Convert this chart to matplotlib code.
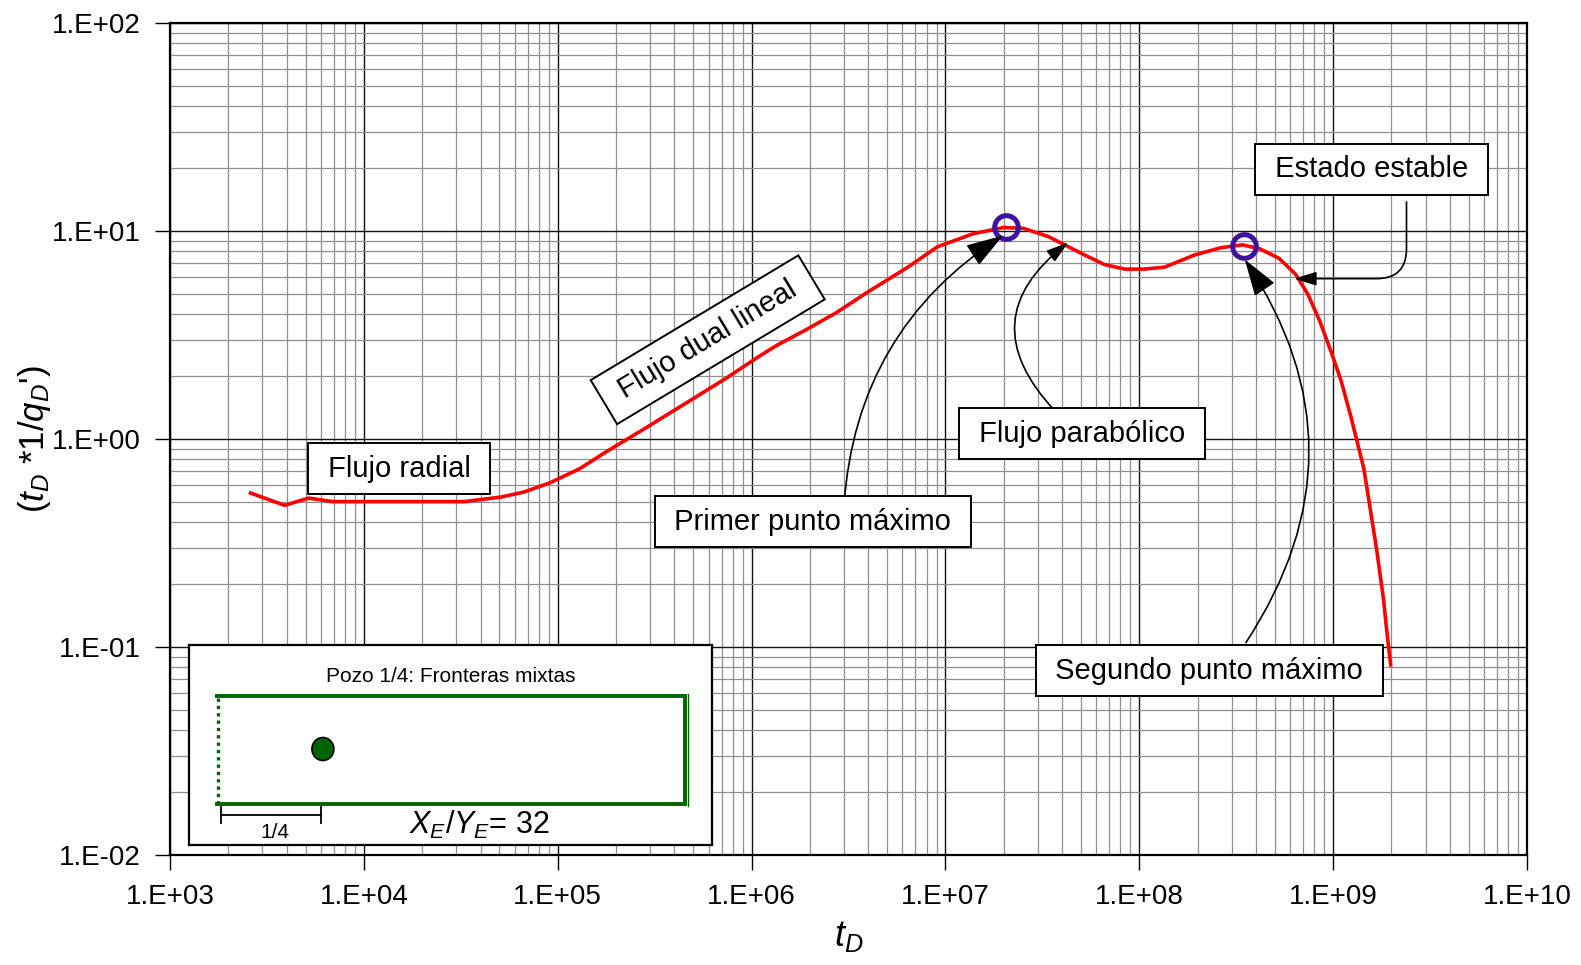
import matplotlib
matplotlib.use("Agg")
import matplotlib.pyplot as plt
from matplotlib.ticker import LogLocator, NullFormatter
from matplotlib.patches import Ellipse

plt.rcParams["font.family"] = ["Liberation Sans", "DejaVu Sans"]
plt.rcParams["mathtext.fontset"] = "custom"
plt.rcParams["mathtext.rm"] = "Liberation Sans"
plt.rcParams["mathtext.it"] = "Liberation Sans:italic"

# curve
td = [2.6e3, 3.9e3, 5.2e3, 6.9e3, 1.5e4, 3.3e4, 5.1e4, 6.7e4, 9.1e4, 1.3e5,
      1.75e5, 2.8e5, 4.6e5, 7.4e5, 1.06e6, 1.34e6, 1.92e6, 2.75e6, 3.95e6,
      6.4e6, 9.1e6, 1.39e7, 2.0e7, 2.53e7, 3.4e7, 4.9e7, 6.6e7, 8.4e7,
      1.06e8, 1.35e8, 1.93e8, 2.62e8, 3.4e8, 4.2e8, 5.25e8, 6.4e8, 7.4e8,
      8.5e8, 9.8e8, 1.1e9, 1.24e9, 1.44e9, 1.54e9, 1.68e9, 1.82e9, 1.89e9,
      1.98e9]
val = [0.55, 0.48, 0.52, 0.50, 0.50, 0.50, 0.526, 0.556, 0.615, 0.72,
       0.86, 1.12, 1.49, 1.96, 2.45, 2.81, 3.36, 4.06, 5.07,
       6.7, 8.4, 9.7, 10.4, 10.3, 9.4, 7.9, 6.9, 6.56,
       6.56, 6.7, 7.67, 8.3, 8.58, 8.2, 7.4, 6.2, 4.97,
       3.72, 2.6, 1.9, 1.26, 0.72, 0.486, 0.29, 0.169, 0.12,
       0.082]

peak_t = [2.05e7, 3.45e8]
peak_v = [10.4, 8.5]

# labels: text, x, y, angle
labels = ["Flujo radial", "Flujo dual lineal", "Primer punto máximo",
          "Flujo parabólico", "Segundo punto máximo", "Estado estable"]
lab_x = [1.52e4, 5.94e5, 2.07e6, 5.07e7, 2.3e8, 1.58e9]
lab_y = [0.72, 3.0, 0.40, 1.06, 0.077, 19.8]
lab_rot = [0, 31, 0, 0, 0, 0]

# arrows: tail (on the box) -> head
arr_tail = [(3.0e6, 0.485), (3.66e7, 1.37), (3.55e8, 0.105), (2.39e9, 13.8)]
arr_head = [(1.98e7, 9.5), (4.3e7, 8.8), (3.5e8, 7.3), (6.3e8, 5.9)]
arr_conn = ["arc3,rad=-0.25", "arc3,rad=-0.55", "arc3,rad=0.33",
            "angle,angleA=90,angleB=0,rad=30"]
arr_big = [True, False, True, False]

fig = plt.figure(figsize=(15.81, 9.65), dpi=100)
ax = fig.add_axes([170 / 1581, 1 - 855 / 965, 1357 / 1581, 832 / 965])
ax.set_xscale("log")
ax.set_yscale("log")
ax.set_xlim(1e3, 1e10)
ax.set_ylim(1e-2, 1e2)

ax.xaxis.set_minor_locator(LogLocator(base=10, subs=range(2, 10), numticks=100))
ax.yaxis.set_minor_locator(LogLocator(base=10, subs=range(2, 10), numticks=100))
ax.xaxis.set_minor_formatter(NullFormatter())
ax.yaxis.set_minor_formatter(NullFormatter())
ax.set_xticks([10.0 ** k for k in range(3, 11)])
ax.set_xticklabels(["1.E+%02d" % k for k in range(3, 11)])
ax.set_yticks([10.0 ** k for k in range(-2, 3)])
ax.set_yticklabels(["1.E%+03d" % k for k in range(-2, 3)])
ax.tick_params(which="major", length=11, width=1, labelsize=20, direction="out")
ax.tick_params(axis="x", pad=10)
ax.tick_params(axis="y", pad=10)
ax.tick_params(which="minor", length=0)
ax.grid(True, which="minor", color="#8f8f8f", lw=0.9)
ax.grid(True, which="major", color="#111111", lw=1.0)
ax.set_axisbelow(True)
for s in ax.spines.values():
    s.set_linewidth(1.6)

ax.plot(td, val, color="red", lw=2.6, zorder=3)
ax.plot(peak_t, peak_v, "o", ms=17, mfc="none", mec="#4010A0", mew=3.6, zorder=4)

for t, x, y, r in zip(labels, lab_x, lab_y, lab_rot):
    ax.text(x, y, " " + t + " ", fontsize=21, ha="center", va="center",
            rotation=r, rotation_mode="anchor", zorder=6,
            bbox=dict(boxstyle="square,pad=0.4", fc="white", ec="black", lw=1.4))

for tail, head, conn, big in zip(arr_tail, arr_head, arr_conn, arr_big):
    if big:
        style = "-|>,head_length=1.55,head_width=0.5"
    else:
        style = "-|>,head_length=0.9,head_width=0.28"
    ax.annotate("", xy=head, xytext=tail, zorder=5,
                arrowprops=dict(arrowstyle=style, connectionstyle=conn,
                                color="black", lw=1.2, mutation_scale=15,
                                shrinkA=0, shrinkB=0))

ax.set_xlabel("$t_D$", fontsize=26, labelpad=6)
ax.set_ylabel("($t_D$ *1/$q_D$')", fontsize=25, labelpad=-1)

# inset schematic
ins = fig.add_axes([189 / 1581, 1 - 845 / 965, 523 / 1581, 200 / 965])
ins.set_xlim(0, 1)
ins.set_ylim(0, 1)
ins.set_xticks([])
ins.set_yticks([])
for s in ins.spines.values():
    s.set_linewidth(1.6)
ins.text(0.5, 0.84, "Pozo 1/4: Fronteras mixtas", fontsize=15,
         ha="center", va="center")
g = "#006400"
ins.plot([0.054, 0.948], [0.747, 0.747], color=g, lw=2.8)
ins.plot([0.054, 0.948], [0.207, 0.207], color=g, lw=2.8)
ins.plot([0.948, 0.948], [0.207, 0.747], color=g, lw=2.8)
ins.plot([0.955, 0.955], [0.197, 0.757], color=g, lw=1.0)
ins.plot([0.055, 0.055], [0.207, 0.747], color=g, lw=2.4, ls=(0, (1, 1.2)))
ins.add_patch(Ellipse((0.256, 0.48), 0.042, 0.115, fc=g, ec="black", lw=1.2))
ins.plot([0.062, 0.252], [0.152, 0.152], color="black", lw=1.3)
ins.plot([0.062, 0.062], [0.11, 0.19], color="black", lw=1.3)
ins.plot([0.252, 0.252], [0.11, 0.19], color="black", lw=1.3)
ins.text(0.165, 0.065, "1/4", fontsize=15, ha="center", va="center")
ins.text(0.555, 0.1, "$X_E$/$Y_E$= 32", fontsize=22, ha="center", va="center")

fig.savefig("out.png", dpi=100)
